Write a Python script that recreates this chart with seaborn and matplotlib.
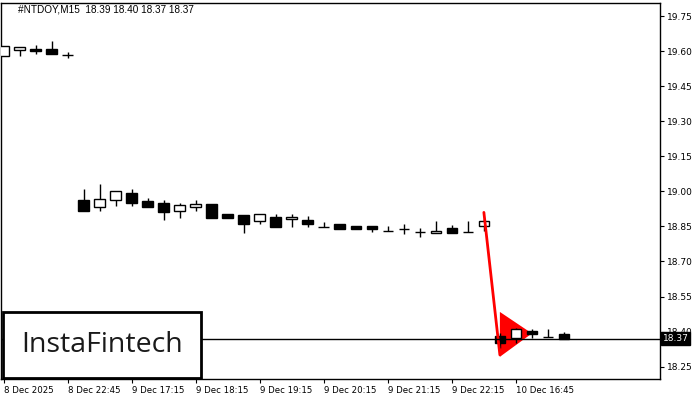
import numpy as np
import pandas as pd
import seaborn as sns
import matplotlib
matplotlib.use("Agg")
import matplotlib.pyplot as plt
from matplotlib.patches import Rectangle

# ---- data ----
opens = [19.578, 19.607, 19.610, 19.611, 19.582,
         18.961, 18.932, 18.964, 18.992, 18.959, 18.950, 18.918, 18.935,
         18.948, 18.903, 18.898, 18.873, 18.891, 18.880, 18.877, 18.846,
         18.859, 18.851, 18.851, 18.830, 18.838, 18.824, 18.820, 18.844,
         18.827, 18.853,
         18.382, 18.371, 18.403, 18.378, 18.390]
highs = [19.620, 19.617, 19.625, 19.644, 19.595,
         19.011, 19.031, 19.000, 19.010, 18.971, 18.961, 18.950, 18.961,
         18.948, 18.903, 18.898, 18.901, 18.903, 18.903, 18.895, 18.870,
         18.859, 18.851, 18.851, 18.853, 18.859, 18.844, 18.874, 18.856,
         18.874, 18.880,
         18.393, 18.417, 18.411, 18.411, 18.400]
lows = [19.578, 19.578, 19.586, 19.586, 19.570,
        18.917, 18.917, 18.938, 18.938, 18.931, 18.878, 18.888, 18.918,
        18.887, 18.888, 18.820, 18.859, 18.848, 18.846, 18.848, 18.846,
        18.838, 18.838, 18.827, 18.830, 18.816, 18.803, 18.820, 18.820,
        18.827, 18.830,
        18.331, 18.350, 18.374, 18.378, 18.370]
closes = [19.620, 19.617, 19.600, 19.586, 19.582,
          18.917, 18.968, 19.000, 18.949, 18.931, 18.911, 18.940, 18.945,
          18.887, 18.888, 18.859, 18.901, 18.848, 18.891, 18.859, 18.846,
          18.838, 18.838, 18.838, 18.830, 18.838, 18.824, 18.830, 18.820,
          18.827, 18.873,
          18.350, 18.410, 18.388, 18.378, 18.370]

tick_idx = [0, 4, 8, 12, 16, 20, 24, 28, 32]
tick_labels = ["8 Dec 2025", "8 Dec 22:45", "9 Dec 17:15", "9 Dec 18:15",
               "9 Dec 19:15", "9 Dec 20:15", "9 Dec 21:15", "9 Dec 22:15",
               "10 Dec 16:45"]
y_ticks = [18.25, 18.40, 18.55, 18.70, 18.85, 19.00, 19.15, 19.30, 19.45, 19.60, 19.75]

pole_x = [30, 31]
pole_y = [18.91, 18.30]
pennant_x = [31, 31, 33]
pennant_y = [18.484, 18.292, 18.392]

last_price = 18.37
title = "#NTDOY,M15  18.39 18.40 18.37 18.37"

df = pd.DataFrame({"i": np.arange(len(opens)), "open": opens, "high": highs,
                   "low": lows, "close": closes})

sns.set_theme(style="white")
plt.rcParams["font.family"] = ["DejaVu Sans"]

fig = plt.figure(figsize=(7, 4), dpi=100)
ax = fig.add_axes([0.5 / 700, 1 - 379 / 400, 659.5 / 700, 376 / 400])

# pennant triangle (under candles)
ax.fill(pennant_x, pennant_y, color="#ff0000", lw=0, zorder=1)

# wicks
ax.vlines(df["i"], df["low"], df["high"], color="black", lw=1, zorder=2)
# bodies
bull = df["close"] >= df["open"]
h = (df["close"] - df["open"]).where(lambda s: s.abs() > 1e-4, 1e-4)
ax.bar(df["i"], h, bottom=df["open"], width=0.66,
       color=np.where(bull, "white", "black"), edgecolor="black", lw=1, zorder=3)

# pole line
sns.lineplot(x=pole_x, y=pole_y, ax=ax, color="#ff0000", lw=2, zorder=4, legend=False)

# last price line
ax.axhline(last_price, color="black", lw=1, zorder=5)

ax.set_xlim(-0.19, 41.0)
ax.set_ylim(18.197, 19.806)

ax.yaxis.tick_right()
ax.set_yticks(y_ticks)
ax.set_yticklabels([f"{v:.2f}" for v in y_ticks])
ax.set_xticks(tick_idx)
ax.set_xticklabels(tick_labels, ha="left")
ax.tick_params(axis="both", direction="out", length=3, width=0.8, labelsize=6.5,
               colors="black", pad=2)
ax.tick_params(axis="y", right=True, left=False)
ax.tick_params(axis="x", bottom=True, labelsize=6.2)
ax.set_xlabel("")
ax.set_ylabel("")
for s in ax.spines.values():
    s.set_color("black")
    s.set_linewidth(1)

ax.text(0.027, 0.982, title, transform=ax.transAxes, fontsize=7.2, va="center",
        ha="left", color="black", family="Liberation Sans")

ax.annotate(f"{last_price:.2f}", xy=(1, last_price), xycoords=("axes fraction", "data"),
            xytext=(2, 0), textcoords="offset points", ha="left", va="center",
            fontsize=6.5, color="white", annotation_clip=False,
            bbox=dict(boxstyle="square,pad=0.2", fc="black", ec="black"))

# logo
fig.add_artist(Rectangle((3 / 700, 1 - 378 / 400), 198 / 700, 66 / 400,
                         transform=fig.transFigure, facecolor="white",
                         edgecolor="black", lw=2, zorder=10))
fig.text(102 / 700, 1 - 345 / 400, "InstaFintech", fontsize=20.5, family="Open Sans",
         ha="center", va="center", color="#1a1a1a", zorder=11)

fig.savefig("out.png", dpi=100)
